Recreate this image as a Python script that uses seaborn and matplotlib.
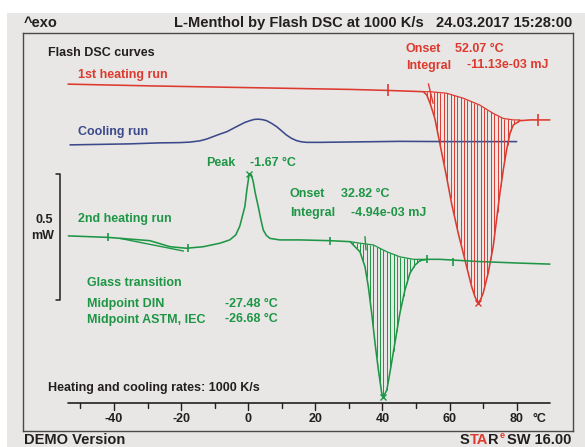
import numpy as np
import pandas as pd
import matplotlib
matplotlib.use("Agg")
import matplotlib.pyplot as plt
import seaborn as sns

# ---------------- data (temperature in °C, heat flow in mW, curves offset) ----
heat1_T = [-53.7, -29.3, 0.5, 30.3, 41.6, 52.2, 53.2, 54.2, 55.6, 57.1, 59.1, 60.6,
           62.6, 64.6, 66.6, 67.6, 68.4, 69.2, 70.0, 71.5, 73.0, 74.0, 75.0, 76.0,
           77.0, 78.0, 79.0, 81.0, 84.0, 89.9]
heat1_mW = [1.281, 1.274, 1.267, 1.260, 1.256, 1.251, 1.238, 1.205, 1.146, 1.046, 0.914,
            0.808, 0.689, 0.583, 0.477, 0.437, 0.414, 0.425, 0.451, 0.531, 0.636, 0.742,
            0.848, 0.940, 1.020, 1.086, 1.119, 1.136, 1.139, 1.139]
heat1_base_T = [52.2, 54.2, 59.1, 64.1, 69.0, 73.0, 76.0, 79.0, 81.0]
heat1_base_mW = [1.251, 1.251, 1.245, 1.225, 1.198, 1.165, 1.145, 1.139, 1.139]

cool_T = [-53.1, -44.2, -35.3, -26.3, -20.4, -17.4, -14.4, -12.4, -10.4, -8.4, -6.4,
          -4.4, -2.5, -1.0, 0.5, 1.8, 3.0, 4.3, 5.5, 7.0, 8.5, 10.0, 11.4, 12.9, 14.4,
          15.9, 17.4, 21.4, 45.2, 60.1, 80.0]
cool_mW = [1.040, 1.042, 1.044, 1.048, 1.049, 1.051, 1.056, 1.063, 1.073, 1.083, 1.092,
           1.106, 1.119, 1.129, 1.136, 1.141, 1.142, 1.140, 1.136, 1.125, 1.112, 1.095,
           1.079, 1.066, 1.057, 1.052, 1.050, 1.050, 1.054, 1.053, 1.053]

heat2_T = [-53.6, -41.7, -29.3, -23.3, -18.4, -13.4, -8.4, -5.5, -3.7, -2.5, -1.0, -0.4,
           0.3, 0.95, 1.5, 2.1, 3.0, 3.8, 4.5, 5.4, 6.5, 9.4, 15.4, 24.4, 30.4, 31.3,
           33.3, 34.8, 35.8, 36.8, 37.8, 38.8, 39.8, 40.3, 41.3, 42.2, 43.7, 45.2, 46.7,
           48.2, 49.7, 51.2, 53.2, 57.1, 69.1, 81.0, 89.9]
heat2_mW = [0.679, 0.673, 0.660, 0.636, 0.630, 0.636, 0.650, 0.663, 0.683, 0.718, 0.795,
            0.861, 0.925, 0.921, 0.894, 0.849, 0.795, 0.742, 0.702, 0.681, 0.669, 0.663,
            0.663, 0.660, 0.656, 0.643, 0.616, 0.557, 0.477, 0.372, 0.253, 0.147, 0.054,
            0.041, 0.067, 0.134, 0.253, 0.372, 0.464, 0.531, 0.563, 0.581, 0.586, 0.586,
            0.577, 0.571, 0.567]
heat2_base_T = [30.4, 33.3, 37.3, 41.3, 45.2, 49.2, 53.2]
heat2_base_mW = [0.656, 0.650, 0.643, 0.616, 0.596, 0.586, 0.586]

# evaluation marks
red_limit_T = [41.6, 86.4]
red_limit_mW = [1.256, 1.139]
red_peak_T = [68.4]
red_peak_mW = [0.414]
red_onset_T = [53.7, 55.1]
red_onset_mW = [1.282, 1.205]
green_limit_T = [-41.8, -18.0, 24.4, 53.2, 61.1]
green_limit_mW = [0.673, 0.630, 0.660, 0.586, 0.575]
green_peak_T = [0.3, 40.3]
green_peak_mW = [0.925, 0.041]
green_onset_T = [34.8, 35.1]
green_onset_mW = [0.676, 0.623]
glass_tan_T = [-38.2, -19.3]
glass_tan_mW = [0.669, 0.619]

xticks_major = [-40, -20, 0, 20, 40, 60, 80]
xticks_minor = [-50, -30, -10, 10, 30, 50, 70]
axis_range = [-53.7, 89.8]
scale_bar_mW = [0.426, 0.926]

# ---------------- style ----------------
RED = "#dc3a2f"
GREEN = "#1e9646"
BLUE = "#3c4a8c"
TXT = "#231f20"
BG = "#e8e7e5"
FRAME = "#4a4a4a"

sns.set_style("white")
plt.rcParams['font.family'] = ['Liberation Sans', 'DejaVu Sans']
plt.rcParams['font.weight'] = 'bold'

W, H = 585, 447
fig = plt.figure(figsize=(W / 100, H / 100), dpi=100, facecolor="white")
fig.patches.append(plt.Rectangle((6.7 / W, 0), 1 - 6.7 / W, 1 - 12.7 / H,
                                 transform=fig.transFigure, facecolor=BG,
                                 edgecolor="none", zorder=-10))

ax = fig.add_axes([22.7 / W, 1 - 431 / H, (572.7 - 22.7) / W, (431 - 32.7) / H])
ax.set_zorder(1)
ax.set_facecolor(BG)
for s in ax.spines.values():
    s.set_color(FRAME)
    s.set_linewidth(1.0)

# curves
for T, y, c in [(heat1_T, heat1_mW, RED), (cool_T, cool_mW, BLUE), (heat2_T, heat2_mW, GREEN)]:
    df = pd.DataFrame({"T": T, "mW": y})
    sns.lineplot(data=df, x="T", y="mW", sort=False, estimator=None, ax=ax,
                 color=c, linewidth=1.15)
ax.set_xlabel("")
ax.set_ylabel("")
ax.set_xticks([])
ax.set_yticks([])
ax.set_xlim(-67.2, 96.7)
ax.set_ylim(-0.095, 1.485)
AXIS_Y = 0.016

# integration baselines and hatching
def hatch(T, y, bT, by, color):
    ax.plot(bT, by, color=color, lw=0.9)
    xs = np.arange(np.ceil(bT[0]) + 0.3, bT[-1], 1.0)
    top = np.interp(xs, bT, by)
    bot = np.interp(xs, T, y)
    ax.vlines(xs, bot, top, color=color, lw=0.7)

hatch(heat1_T, heat1_mW, heat1_base_T, heat1_base_mW, RED)
hatch(heat2_T, heat2_mW, heat2_base_T, heat2_base_mW, GREEN)

# marks
ax.plot(red_limit_T, red_limit_mW, ls="none", marker="|", ms=8, mew=1.2, color=RED)
ax.plot(green_limit_T, green_limit_mW, ls="none", marker="|", ms=6, mew=1.2, color=GREEN)
ax.plot(red_peak_T, red_peak_mW, ls="none", marker="x", ms=4.5, mew=1.0, color=RED)
ax.plot(green_peak_T, green_peak_mW, ls="none", marker="x", ms=4.5, mew=1.0, color=GREEN)
ax.plot(red_onset_T, red_onset_mW, color=RED, lw=1.0)
ax.plot(green_onset_T, green_onset_mW, color=GREEN, lw=1.0)
ax.plot(glass_tan_T, glass_tan_mW, color=GREEN, lw=1.0)

# x axis (drawn inside frame)
ax.plot(axis_range, [AXIS_Y, AXIS_Y], color=TXT, lw=1.2)
for t in xticks_major:
    ax.plot([t, t], [AXIS_Y, AXIS_Y - 0.026], color=TXT, lw=1.0)
    ax.text(t, AXIS_Y - 0.065, f"{t:d}", ha="center", va="center", fontsize=9,
            color=TXT, fontweight="bold")
for t in xticks_minor:
    ax.plot([t, t], [AXIS_Y, AXIS_Y - 0.018], color=TXT, lw=1.0)
ax.text(86.9, AXIS_Y - 0.065, "°C", ha="center", va="center", fontsize=9, color=TXT,
        fontweight="bold")

# scale bar
sbx = -56.1
ax.plot([sbx - 1.1, sbx, sbx, sbx - 1.1],
        [scale_bar_mW[0], scale_bar_mW[0], scale_bar_mW[1], scale_bar_mW[1]],
        color=TXT, lw=1.1)

# ---------------- texts ----------------
def ptxt(x, y, s, color=TXT, size=9, ha="left", va="center", z=5):
    return fig.text(x / W, 1 - y / H, s, color=color, fontsize=size, ha=ha, va=va,
                    fontweight="bold", zorder=z)

ptxt(24, 23, "^exo", size=10.5)
ptxt(173.5, 23, "L-Menthol by Flash DSC at 1000 K/s", size=10.5)
ptxt(572, 23, "24.03.2017 15:28:00", size=10.5, ha="right")

ptxt(48.5, 53.5, "Flash DSC curves")
ptxt(406, 48.5, "Onset", RED)
ptxt(455, 48.5, "52.07 °C", RED)
ptxt(406, 65.5, "Integral", RED)
ptxt(467, 65.5, "-11.13e-03 mJ", RED)
ptxt(78, 75, "1st heating run", RED)
ptxt(78, 131.5, "Cooling run", BLUE)

ptxt(205.7, 163.5, "Peak", GREEN)
ptxt(250, 163.5, "-1.67 °C", GREEN)
ptxt(290, 194, "Onset", GREEN)
ptxt(340.7, 194, "32.82 °C", GREEN)
ptxt(290, 212.5, "Integral", GREEN)
ptxt(351, 212.5, "-4.94e-03 mJ", GREEN)
ptxt(77.7, 218.5, "2nd heating run", GREEN)

ptxt(53.5, 220, "0.5", ha="right")
ptxt(53.5, 236, "mW", ha="right")

ptxt(87.3, 283.5, "Glass transition", GREEN)
ptxt(87.3, 304, "Midpoint DIN", GREEN)
ptxt(225, 304, "-27.48 °C", GREEN)
ptxt(87.3, 319.5, "Midpoint ASTM, IEC", GREEN)
ptxt(225, 319.5, "-26.68 °C", GREEN)

ptxt(48.5, 388.5, "Heating and cooling rates: 1000 K/s")

YB = 439.5
ptxt(23.5, YB, "DEMO Version", size=10.5)

# STARe SW 16.00 logo text
fig.canvas.draw()
r = fig.canvas.get_renderer()

def width(s, sz=10.5):
    t = ptxt(0, -100, s, size=sz)
    w = t.get_window_extent(r).width
    t.remove()
    return w

x0 = 460.0
ptxt(x0, YB, "S", TXT, 10.5)
ptxt(x0 + width("STA") - width("TA"), YB, "TA", RED, 10.5)
ptxt(x0 + width("STAR") - width("R"), YB, "R", TXT, 10.5)
ptxt(x0 + width("STAR") + 0.8, YB - 4, "e", RED, 6.5)
ptxt(571.7, YB, "SW 16.00", TXT, 10.5, ha="right")

fig.savefig("out.png", dpi=100, facecolor="white")
